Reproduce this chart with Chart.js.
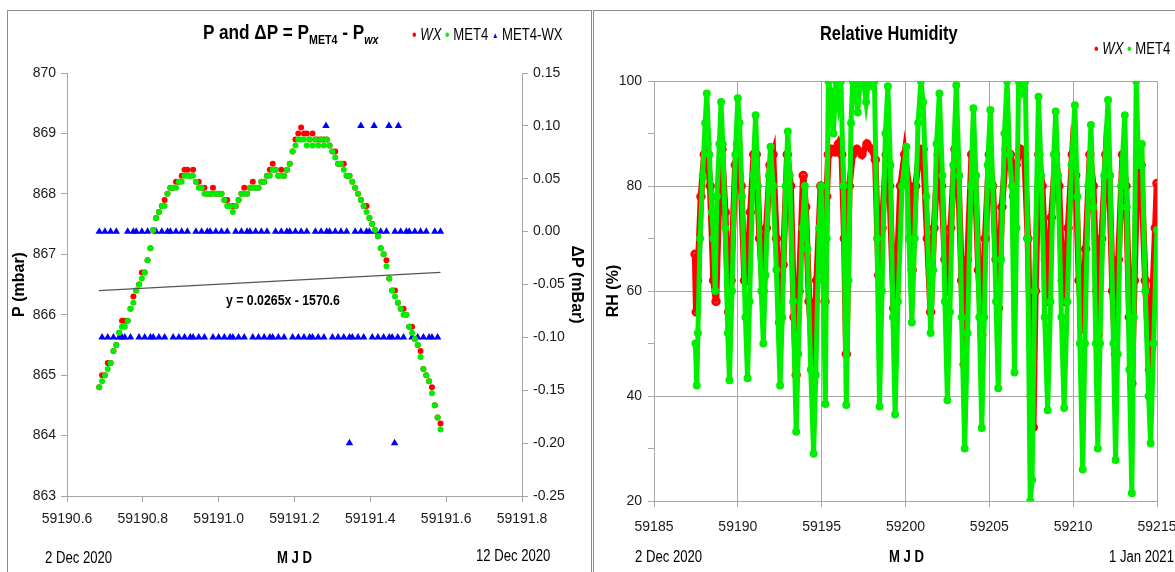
<!DOCTYPE html>
<html><head><meta charset="utf-8">
<script src="https://cdn.jsdelivr.net/npm/chart.js@4.4.1/dist/chart.umd.min.js"></script>
<style>
html,body{margin:0;padding:0;background:#fff;width:1175px;height:572px;overflow:hidden;}
body{position:relative;font-family:'Liberation Sans',Arial,sans-serif;color:#000;}
.box{position:absolute;border:1px solid #8c8c8c;}
canvas{position:absolute;}
.t{position:absolute;white-space:nowrap;line-height:1;transform:scaleX(0.82);transform-origin:0 50%;}
.b{font-weight:bold;}
</style></head><body>
<div class="box" style="left:7px;top:10px;width:583px;height:590px;"></div>
<div class="box" style="left:593px;top:10px;width:600px;height:590px;"></div>
<canvas id="c1" width="590" height="572" style="left:0;top:0"></canvas>
<canvas id="c2" width="620" height="572" style="left:592px;top:0"></canvas>

<div class="t b" style="left:203px;top:21px;font-size:21px;">P and ΔP = P<sub style="font-size:13px">MET4</sub> - P<sub style="font-size:13px"><i>wx</i></sub></div>
<div class="t" style="left:412px;top:27px;font-size:16px;"><span style="color:#f00">•</span> <i>WX</i> <span style="color:#0e0">•</span> MET4 <span style="color:#00f;font-size:8px;vertical-align:2px">▲</span> MET4-WX</div>
<div class="t b" style="left:226px;top:292px;font-size:15px;">y = 0.0265x - 1570.6</div>
<div class="t" style="left:45px;top:550px;font-size:16px;">2 Dec 2020</div>
<div class="t b" style="left:277px;top:550px;font-size:16px;">M J D</div>
<div class="t" style="left:476px;top:548px;font-size:16px;">12 Dec 2020</div>

<div class="t b" style="left:820px;top:23px;font-size:20px;">Relative Humidity</div>
<div class="t" style="left:1094px;top:41px;font-size:16px;"><span style="color:#f00">•</span> <i>WX</i> <span style="color:#0e0">•</span> MET4</div>
<div class="t" style="left:635px;top:549px;font-size:16px;">2 Dec 2020</div>
<div class="t b" style="left:889px;top:549px;font-size:16px;">M J D</div>
<div class="t" style="left:1109px;top:549px;font-size:16px;">1 Jan 2021</div>

<script>
// ---------- Left panel: pressure ----------
const pTime = [
59190.685,59190.6925,59190.700,59190.7075,59190.715,59190.7225,59190.730,59190.7375,59190.745,59190.7525,
59190.760,59190.7675,59190.775,59190.7825,59190.790,59190.7975,59190.805,59190.8125,59190.820,59190.8275,
59190.835,59190.8425,59190.850,59190.8575,59190.865,59190.8725,59190.880,59190.8875,59190.895,59190.9025,
59190.910,59190.9175,59190.925,59190.9325,59190.940,59190.9475,59190.955,59190.9625,59190.970,59190.9775,
59190.985,59190.9925,59191.000,59191.0075,59191.015,59191.0225,59191.030,59191.0375,59191.045,59191.0525,
59191.060,59191.0675,59191.075,59191.0825,59191.090,59191.0975,59191.105,59191.1125,59191.120,59191.1275,
59191.135,59191.1425,59191.150,59191.1575,59191.165,59191.1725,59191.180,59191.1875,59191.195,59191.2025,
59191.210,59191.2175,59191.225,59191.2325,59191.240,59191.2475,59191.255,59191.2625,59191.270,59191.2775,
59191.285,59191.2925,59191.300,59191.3075,59191.315,59191.3225,59191.330,59191.3375,59191.345,59191.3525,
59191.360,59191.3675,59191.375,59191.3825,59191.390,59191.3975,59191.405,59191.4125,59191.420,59191.4275,
59191.435,59191.4425,59191.450,59191.4575,59191.465,59191.4725,59191.480,59191.4875,59191.495,59191.5025,
59191.510,59191.5175,59191.525,59191.5325,59191.540,59191.5475,59191.555,59191.5625,59191.570,59191.5775,
59191.585];
const pMET4 = [
864.8,864.9,865.0,865.1,865.2,865.4,865.5,865.7,865.8,865.8,
865.9,866.1,866.2,866.4,866.5,866.6,866.7,866.9,867.1,867.4,
867.6,867.7,867.8,867.8,868.0,868.1,868.1,868.1,868.2,868.2,
868.3,868.3,868.3,868.3,868.2,868.1,868.1,868.0,868.0,868.0,
868.0,868.0,868.0,868.0,867.9,867.8,867.8,867.7,867.8,867.9,
868.0,868.0,868.0,868.1,868.1,868.1,868.1,868.2,868.2,868.3,
868.3,868.4,868.4,868.3,868.3,868.3,868.4,868.5,868.7,868.8,
868.9,868.9,868.9,868.8,868.9,868.8,868.9,868.8,868.9,868.8,
868.9,868.8,868.7,868.6,868.5,868.5,868.4,868.3,868.3,868.2,
868.1,868.0,867.9,867.8,867.7,867.6,867.5,867.4,867.3,867.1,
867.0,866.8,866.6,866.4,866.3,866.2,866.1,866.0,866.0,865.8,
865.7,865.6,865.5,865.3,865.1,865.0,864.9,864.7,864.5,864.3,
864.1];
const pWX = [
864.8,865.0,865.0,865.2,865.2,865.4,865.5,865.7,865.9,865.9,
865.9,866.1,866.3,866.4,866.5,866.7,866.7,866.9,867.1,867.4,
867.6,867.7,867.8,867.9,868.0,868.1,868.1,868.2,868.2,868.3,
868.4,868.4,868.3,868.4,868.2,868.2,868.1,868.1,868.0,868.0,
868.1,868.0,868.0,868.0,867.9,867.9,867.8,867.8,867.8,867.9,
868.0,868.1,868.0,868.1,868.2,868.1,868.1,868.2,868.2,868.3,
868.4,868.5,868.4,868.3,868.4,868.3,868.4,868.5,868.7,868.9,
869.0,869.1,869.0,869.0,868.9,869.0,868.9,868.9,868.9,868.9,
868.9,868.8,868.7,868.7,868.5,868.5,868.5,868.3,868.3,868.2,
868.1,868.0,867.9,867.8,867.8,867.6,867.5,867.4,867.3,867.1,
867.0,866.9,866.6,866.4,866.4,866.2,866.1,866.1,866.0,865.8,
865.8,865.6,865.5,865.4,865.1,865.0,864.9,864.8,864.5,864.3,
864.2];
const dP = [
0,-0.1,0,-0.1,0,-0.1,0,-0.1,-0.1,-0.1,
0,-0.1,0,0,-0.1,0,-0.1,0,-0.1,-0.1,
0,-0.1,0,-0.1,0,0,-0.1,0,-0.1,0,
-0.1,0,-0.1,-0.1,0,-0.1,0,-0.1,0,0,
-0.1,0,-0.1,0,-0.1,0,-0.1,-0.1,0,-0.1,
0,-0.1,0,0,-0.1,0,-0.1,0,-0.1,0,
-0.1,-0.1,0,-0.1,0,-0.1,0,0,-0.1,0,
-0.1,0,-0.1,0,-0.1,-0.1,0,-0.1,0,-0.1,
0,0,-0.1,0,-0.1,0,-0.1,0,-0.1,-0.1,
0,-0.1,0,-0.1,0,0,-0.1,0,-0.1,0,
-0.1,0,-0.1,-0.1,0,-0.1,0,-0.1,0,0,
-0.1,0,-0.1,0,-0.1,0,-0.1,-0.1,0,-0.1,
0];
const dPOutTime = [59191.283,59191.375,59191.410,59191.449,59191.474,59191.345,59191.464];
const dPOutVal  = [0.10,0.10,0.10,0.10,0.10,-0.20,-0.20];
const trendTime = [59190.684,59191.585];
const trendVal  = [866.40,866.70];
const pXTicks = [59190.6,59190.8,59191.0,59191.2,59191.4,59191.6,59191.8];

// ---------- Right panel: relative humidity ----------
const rhMet4Time = [
59187.47,59187.55,59187.62,59187.75,59187.90,
59188.05,59188.15,59188.30,59188.45,59188.55,59188.65,59188.75,59188.90,
59189.00,59189.10,59189.25,59189.40,59189.50,59189.65,59189.85,
59190.00,59190.10,59190.25,59190.45,59190.58,59190.70,59190.90,
59191.06,59191.20,59191.40,59191.52,59191.65,59191.85,59191.95,
59192.10,59192.30,59192.52,59192.65,59192.85,59192.98,
59193.10,59193.30,59193.48,59193.60,59193.85,
59194.00,59194.15,59194.35,59194.52,59194.65,59194.85,59194.97,
59195.10,59195.22,59195.30,59195.40,59195.55,59195.70,59195.85,
59196.00,59196.15,59196.30,59196.47,59196.60,59196.75,59196.85,
59197.00,59197.15,59197.30,59197.50,59197.65,59197.80,
59198.00,59198.15,59198.30,59198.45,59198.60,59198.80,59198.95,
59199.10,59199.25,59199.38,59199.55,59199.80,
59200.05,59200.20,59200.38,59200.55,59200.75,59200.92,
59201.05,59201.25,59201.50,59201.65,59201.85,
59202.02,59202.20,59202.35,59202.50,59202.65,59202.85,
59203.03,59203.20,59203.35,59203.53,59203.70,59203.90,
59204.05,59204.20,59204.40,59204.55,59204.70,59204.90,
59205.06,59205.20,59205.40,59205.53,59205.70,59205.90,
59206.06,59206.20,59206.35,59206.50,59206.62,59206.75,59206.95,
59207.15,59207.28,59207.44,59207.55,59207.70,59207.93,
59208.10,59208.30,59208.48,59208.65,59208.85,59208.96,
59209.10,59209.30,59209.46,59209.65,59209.90,
59210.10,59210.25,59210.40,59210.57,59210.70,59210.90,
59211.06,59211.20,59211.35,59211.47,59211.60,59211.85,
59212.08,59212.20,59212.40,59212.53,59212.65,59212.85,
59213.08,59213.20,59213.35,59213.50,59213.62,59213.76,59213.90,
59214.10,59214.30,59214.50,59214.62,59214.80,
59215.00];
const rhMet4 = [
50,42,52,70,82,
92,97.6,86,75,70,60,78,88,
96,88,72,52,43,60,86,
96.7,92,78,55,43.4,58,82,
93.5,80,60,50,63,82,87.5,
80,64,42,55,80,90.4,
82,58,33.2,48,72,
80,68,45,29,44,72,80,
62,38.5,70,100,98,90,100,
96,100,80,38.3,62,92,100,
99,94,100,100,96,100,
99,100,70,38,60,90,99,
84,55,36.5,58,80,
87.5,70,54,70,92,100,
96,78,52,64,88,
97.6,82,58,39.2,56,84,
99.2,82,55,30,52,80,
94.8,82,55,33.9,55,84,
94.5,80,58,41.5,66,90,
100,86,80,44.5,72,100,98,
100,70,20,24,60,97,
82,55,37.3,58,86,94.2,
82,55,37.7,58,84,
95.4,78,50,26,50,80,
91.6,76,50,30,50,82,
96.4,82,50,27.8,48,80,
93.5,76,45,21.5,55,100,84,
88,60,40,31,50,
71.6];
const rhWxTime = [
59187.45,59187.52,59187.60,59187.80,
59188.00,59188.15,59188.35,59188.55,59188.70,59188.90,
59189.05,59189.25,59189.45,59189.60,59189.85,
59190.00,59190.20,59190.40,59190.55,59190.75,59190.95,
59191.10,59191.30,59191.50,59191.70,59191.92,
59192.10,59192.30,59192.50,59192.70,59192.95,
59193.15,59193.35,59193.48,59193.65,59193.90,
59194.05,59194.25,59194.50,59194.70,59194.95,
59195.10,59195.20,59195.30,59195.40,59195.60,59195.80,
59196.00,59196.20,59196.35,59196.47,59196.65,59196.85,
59197.10,59197.40,59197.70,
59198.00,59198.20,59198.40,59198.60,59198.85,
59199.05,59199.30,59199.45,59199.70,59199.95,
59200.20,59200.40,59200.60,59200.85,
59201.05,59201.30,59201.50,59201.70,59201.95,
59202.15,59202.35,59202.50,59202.70,59202.95,
59203.15,59203.35,59203.50,59203.70,59203.95,
59204.15,59204.35,59204.55,59204.75,
59205.00,59205.20,59205.40,59205.55,59205.75,
59206.00,59206.25,59206.45,59206.60,59206.85,
59207.10,59207.30,59207.50,59207.62,59207.75,59207.95,
59208.15,59208.35,59208.50,59208.70,59208.95,
59209.15,59209.35,59209.50,59209.70,59209.95,
59210.15,59210.35,59210.55,59210.75,
59211.00,59211.20,59211.40,59211.50,59211.70,59211.95,
59212.15,59212.35,59212.52,59212.70,59212.95,
59213.15,59213.35,59213.50,59213.65,59213.85,
59214.05,59214.30,59214.55,59214.75,59214.90,
59215.00];
const rhWx = [
67,56,62,78,
86,88,80,62,58,80,
87,75,56,62,84,
88,80,62,62,75,86,
86,70,60,72,84,
86,70,54,65,86,
80,55,44,60,82,
76,58,45,62,80,
70,58,78,86,87,86.5,
88,86,70,48,80,86,
87,86,88,
87,85,63,72,86,
80,56.7,60,80,86,
80,64,80,87,
87,70,56,72,86,
80,66,60,72,87,
82,62,46,66,86,
82,64,51.6,70,
86,80,66,56.7,76,
87,86,78,84,87,
86,70,40,34,60,86,
80,66,58,74,86,
80,62,58,72,86,
82,62,52.8,68,
86,80,60,51.6,70,86,
82,60,48,66,86,
80,55,42.4,62,86,
84,62,45,60,72,
80.5];

// ---------- helpers ----------
const zip = (t, v) => t.map((x, i) => ({x: x, y: v[i]}));
const AXC = '#a6a6a6';
Chart.defaults.font.family = "'Liberation Sans',Arial,sans-serif";
Chart.defaults.color = '#1a1a1a';

// ---------- Left chart ----------
new Chart(document.getElementById('c1'), {
  type: 'scatter',
  data: { datasets: [
    { label: 'trend', data: zip(trendTime, trendVal), yAxisID: 'y', showLine: true,
      borderColor: '#555', borderWidth: 1.2, pointRadius: 0, order: 0 },
    { label: 'MET4', data: zip(pTime, pMET4), yAxisID: 'y', backgroundColor: '#00ee00',
      borderColor: '#00ee00', pointRadius: 3, borderWidth: 0, order: 1 },
    { label: 'WX', data: zip(pTime, pWX), yAxisID: 'y', backgroundColor: '#ff0000',
      borderColor: '#ff0000', pointRadius: 3, borderWidth: 0, order: 2 },
    { label: 'MET4-WX', data: zip(pTime, dP).concat(zip(dPOutTime, dPOutVal)), yAxisID: 'y2',
      pointStyle: 'triangle', backgroundColor: '#0000ff', borderColor: '#0000ff',
      pointRadius: 4.3, borderWidth: 0, order: 3 }
  ]},
  options: {
    responsive: false, animation: false, events: [],
    layout: { padding: { left: 10, right: 4, top: 73, bottom: 36 } },
    plugins: { legend: { display: false }, tooltip: { enabled: false } },
    scales: {
      x: { type: 'linear', min: 59190.6, max: 59191.8,
        afterBuildTicks: s => { s.ticks = pXTicks.map(v => ({value: v})); },
        afterFit: s => { s.height = 40; },
        grid: { drawOnChartArea: false, color: AXC, tickLength: 6 },
        border: { color: AXC },
        ticks: { font: { size: 14 }, padding: 9, maxRotation: 0, callback: v => v.toFixed(1) } },
      y: { position: 'left', min: 863, max: 870,
        afterFit: s => { s.width = 57; },
        grid: { drawOnChartArea: false, color: AXC, tickLength: 6 },
        border: { color: AXC },
        ticks: { stepSize: 1, font: { size: 14 }, padding: 5 },
        title: { display: true, text: 'P (mbar)', font: { size: 16, weight: 'bold' }, padding: { top: 0, bottom: 0 }, color: '#000' } },
      y2: { position: 'right', min: -0.25, max: 0.15,
        afterFit: s => { s.width = 64; },
        grid: { drawOnChartArea: false, color: AXC, tickLength: 6 },
        border: { color: AXC },
        ticks: { stepSize: 0.05, font: { size: 14 }, padding: 5, callback: v => v.toFixed(2) },
        title: { display: true, text: 'ΔP (mBar)', font: { size: 16, weight: 'bold' }, padding: { top: 0, bottom: 0 }, color: '#000' } }
    }
  }
});

// ---------- Right chart ----------
new Chart(document.getElementById('c2'), {
  type: 'scatter',
  data: { datasets: [
    { label: 'MET4', data: zip(rhMet4Time, rhMet4), showLine: true, borderColor: '#00ee00',
      backgroundColor: '#00ee00', borderWidth: 5, pointRadius: 1.5, order: 0 },
    { label: 'WX', data: zip(rhWxTime, rhWx), showLine: true, borderColor: '#ff0000',
      backgroundColor: '#ff0000', borderWidth: 6.5, pointRadius: 1.5, order: 1 }
  ]},
  options: {
    responsive: false, animation: false, events: [],
    layout: { padding: { left: 12, right: 55, top: 81, bottom: 31 } },
    plugins: { legend: { display: false }, tooltip: { enabled: false } },
    scales: {
      x: { type: 'linear', min: 59185, max: 59215,
        afterFit: s => { s.height = 40; },
        grid: { color: AXC, tickLength: 6 },
        border: { color: AXC },
        ticks: { stepSize: 5, font: { size: 14 }, padding: 12, maxRotation: 0, callback: v => String(v) } },
      y: { min: 20, max: 100,
        afterFit: s => { s.width = 50; },
        grid: { color: c => (c.tick && c.tick.value % 20 === 0) ? AXC : 'rgba(0,0,0,0)', tickColor: AXC, tickLength: 6 },
        border: { color: AXC },
        ticks: { stepSize: 10, font: { size: 14 }, padding: 6, callback: v => (v % 20 === 0 ? String(v) : '') },
        title: { display: true, text: 'RH (%)', font: { size: 16, weight: 'bold' }, padding: { top: 0, bottom: 0 }, color: '#000' } }
    }
  }
});
</script>
</body></html>
